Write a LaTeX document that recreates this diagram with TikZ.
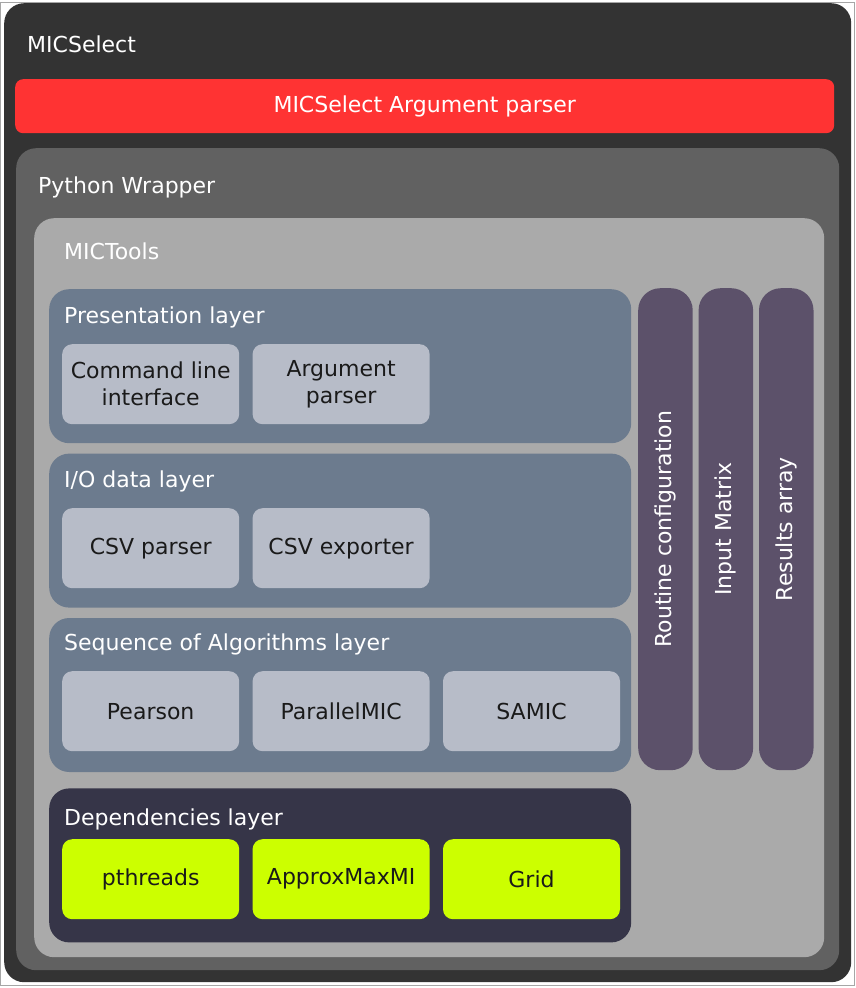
\documentclass[tikz,border=0pt]{standalone}
\usepackage{fontspec}
\setmainfont{DejaVu Sans}
\usepackage{graphicx}
\usepackage{tikz}
\usetikzlibrary{positioning}

\definecolor{selectdark}{HTML}{333333}
\definecolor{parserred}{HTML}{FF3333}
\definecolor{wrappergray}{HTML}{616161}
\definecolor{toolsgray}{HTML}{AAAAAA}
\definecolor{layerslate}{HTML}{6C7B8E}
\definecolor{depnavy}{HTML}{363548}
\definecolor{compgray}{HTML}{B7BCC8}
\definecolor{deplime}{HTML}{CCFF00}
\definecolor{barpurple}{HTML}{5C516A}
\definecolor{inktext}{HTML}{1A1A1A}

\begin{document}
\begin{tikzpicture}[
  x=1pt, y=-1pt,
  font=\fontsize{22}{27}\selectfont,
  area/.style 2 args={anchor=north west, inner sep=0pt, minimum width=#1, minimum height=#2},
  shell/.style={rounded corners=20pt},
  layer/.style={fill=layerslate, rounded corners=20pt},
  comp/.style={fill=compgray, rounded corners=10pt, minimum width=177pt, minimum height=80pt,
               inner sep=0pt, align=center, text=inktext},
  dep/.style={comp, fill=deplime},
  bar/.style={fill=barpurple, rounded corners=22pt, minimum width=54.5pt, minimum height=482pt,
              inner sep=0pt, text=white},
  title/.style={anchor=base west, inner sep=0pt, text=white},
  node distance=13pt
]
  \useasboundingbox (0,0) rectangle (856,988);
  \draw[gray!70, line width=1pt] (0.5,2) rectangle (854.5,985);

  % Outer shells
  \node[shell, fill=selectdark, area={847pt}{979pt}] (micselect) at (4,3) {};
  \node[title] (selectlbl) at (27,52) {MICSelect};
  \node[area={819pt}{54pt}, fill=parserred, rounded corners=8pt, text=white] (argbar) at (15,79)
    {MICSelect Argument parser};
  \node[shell, fill=wrappergray, area={823pt}{822pt}] (wrapper) at (16,148) {};
  \node[title] (wrapperlbl) at (38,193) {Python Wrapper};
  \node[shell, fill=toolsgray, area={790pt}{739pt}] (mictools) at (34,218) {};
  \node[title] (toolslbl) at (64,259) {MICTools};

  % Layers
  \node[layer, area={582pt}{154pt}] (present) at (49,289) {};
  \node[layer, area={582pt}{154pt}, below=10pt of present] (iodata) {};
  \node[layer, area={582pt}{154pt}, below=10pt of iodata] (sequence) {};
  \node[layer, fill=depnavy, area={582pt}{154pt}, below=16pt of sequence] (deps) {};

  % Presentation layer
  \node[title] (presentlbl) at (64,323) {Presentation layer};
  \node[comp, anchor=north west] (cli) at (62,344) {Command line\\interface};
  \node[comp, right=of cli] (args) {Argument\\parser};

  % I/O data layer
  \node[title] (iolbl) at (64,487) {I/O data layer};
  \node[comp, anchor=north west] (csvin) at (62,508) {CSV parser};
  \node[comp, right=of csvin] (csvout) {CSV exporter};

  % Sequence of Algorithms layer
  \node[title] (seqlbl) at (64,650) {Sequence of Algorithms layer};
  \node[comp, anchor=north west] (pearson) at (62,671) {Pearson};
  \node[comp, right=of pearson] (parallel) {ParallelMIC};
  \node[comp, right=of parallel] (samic) {SAMIC};

  % Dependencies layer
  \node[title] (depslbl) at (64,825) {Dependencies layer};
  \node[dep, anchor=north west] (pthreads) at (62,839) {pthreads};
  \node[dep, right=of pthreads] (approx) {ApproxMaxMI};
  \node[dep, right=of approx] (grid) {Grid};

  % Shared data
  \node[bar, anchor=north west] (routine) at (638,288) {\rotatebox{90}{Routine configuration}};
  \node[bar, right=5.5pt of routine] (input) {\rotatebox{90}{Input Matrix}};
  \node[bar, right=5.5pt of input] (results) {\rotatebox{90}{Results array}};
\end{tikzpicture}
\end{document}
